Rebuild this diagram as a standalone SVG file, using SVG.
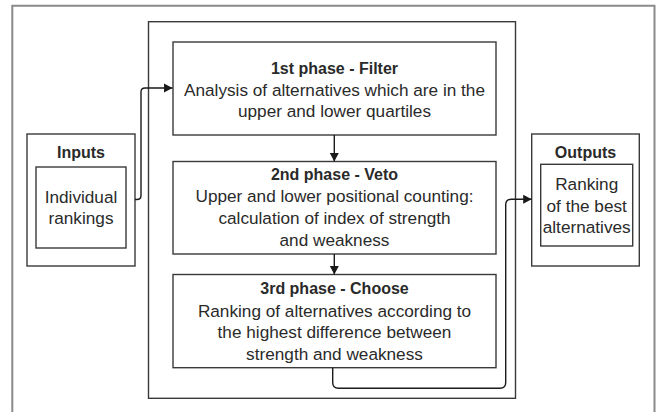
<svg xmlns="http://www.w3.org/2000/svg" width="660" height="412" viewBox="0 0 660 412">
<defs>
<style>
.frame{fill:none;stroke:#8a8a8a;stroke-width:2}
.box{fill:#fff;stroke:#3a3a3a;stroke-width:1.4}
.con{fill:none;stroke:#1a1a1a;stroke-width:1.4}
text{font-family:"Liberation Sans",Arial,sans-serif;fill:#2a2a2a;text-anchor:middle}
.t{font-size:16px;font-weight:bold}
.b{font-size:17.2px}
</style>
<marker id="arr" markerWidth="9" markerHeight="10" refX="8.5" refY="5" orient="auto" markerUnits="userSpaceOnUse">
<path d="M0,0.5 L8.5,5 L0,9.5 Z" fill="#1a1a1a"/>
</marker>
</defs>
<rect x="0" y="0" width="660" height="412" fill="#fff"/>
<path class="frame" d="M12.3,420 V5.7 H654.5 V420"/>
<g id="container">
<rect class="box" x="148.5" y="21.7" width="367" height="376.6"/>
</g>
<g id="phase1">
<rect class="box" x="173" y="42" width="323" height="93"/>
<text class="t" x="334.5" y="74">1st phase - Filter</text>
<text class="b" x="334.5" y="95.7">Analysis of alternatives which are in the</text>
<text class="b" x="334.5" y="117">upper and lower quartiles</text>
</g>
<g id="phase2">
<rect class="box" x="173" y="161.5" width="323" height="92.5"/>
<text class="t" x="334.5" y="180.3">2nd phase - Veto</text>
<text class="b" x="334.5" y="202.3">Upper and lower positional counting:</text>
<text class="b" x="334.5" y="224">calculation of index of strength</text>
<text class="b" x="334.5" y="245.8">and weakness</text>
</g>
<g id="phase3">
<rect class="box" x="173" y="274.5" width="323" height="93.2"/>
<text class="t" x="334.5" y="294">3rd phase - Choose</text>
<text class="b" x="334.5" y="316.5">Ranking of alternatives according to</text>
<text class="b" x="334.5" y="338.2">the highest difference between</text>
<text class="b" x="334.5" y="360">strength and weakness</text>
</g>
<g id="inputs">
<rect class="box" x="27" y="134" width="108" height="132"/>
<text class="t" x="81" y="157.7">Inputs</text>
<rect class="box" x="36" y="167" width="90" height="81"/>
<text class="b" x="81" y="202.7">Individual</text>
<text class="b" x="81" y="224.3">rankings</text>
</g>
<g id="outputs">
<rect class="box" x="531.7" y="134" width="107.6" height="132"/>
<text class="t" x="585.5" y="158.3">Outputs</text>
<rect class="box" x="540.7" y="164.3" width="92" height="81.7"/>
<text class="b" x="586.7" y="190">Ranking</text>
<text class="b" x="586.7" y="211.7">of the best</text>
<text class="b" x="586.7" y="233.4">alternatives</text>
</g>
<g id="connectors">
<path class="con" d="M135,199.5 H137 Q141,199.5 141,195.5 V92 Q141,88 145,88 H172.5" marker-end="url(#arr)"/>
<path class="con" d="M334.3,135 V161.5" marker-end="url(#arr)"/>
<path class="con" d="M334.3,254 V274.5" marker-end="url(#arr)"/>
<path class="con" d="M332.7,367.7 V382.5 Q332.7,388.3 338.5,388.3 H500 Q505.7,388.3 505.7,382.5 V205 Q505.7,199.2 511.5,199.2 H531.7" marker-end="url(#arr)"/>
</g>
</svg>
